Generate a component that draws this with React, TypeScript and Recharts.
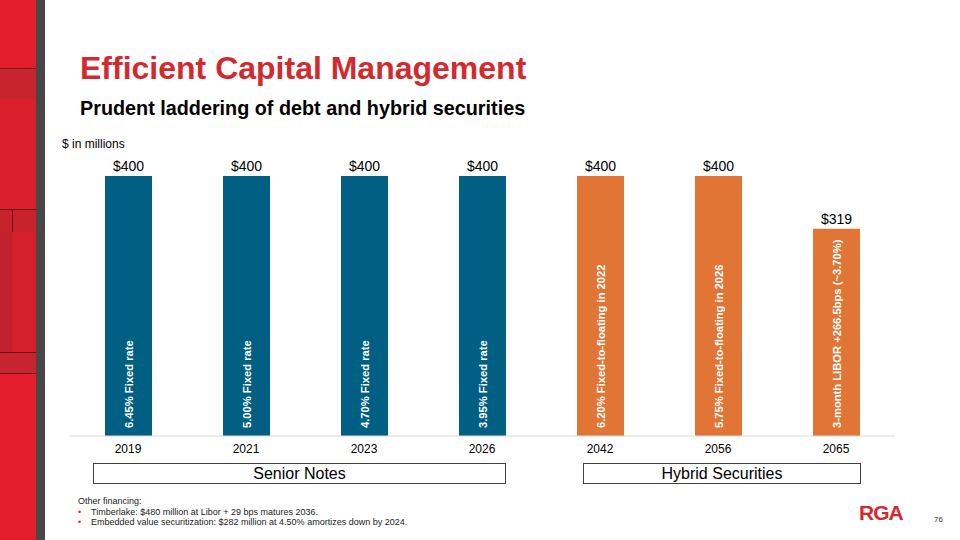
import React from "react";
import { BarChart, Bar, XAxis, YAxis, Cell, LabelList } from "recharts";

const years = ["2019", "2021", "2023", "2026", "2042", "2056", "2065"];
const amounts = [400, 400, 400, 400, 400, 400, 319];
const rateNotes = [
  "6.45% Fixed rate",
  "5.00% Fixed rate",
  "4.70% Fixed rate",
  "3.95% Fixed rate",
  "6.20% Fixed-to-floating in 2022",
  "5.75% Fixed-to-floating in 2026",
  "3-month LIBOR +266.5bps (~3.70%)",
];
const kinds = ["senior", "senior", "senior", "senior", "hybrid", "hybrid", "hybrid"];

const colorFor: Record<string, string> = { senior: "#005F83", hybrid: "#E07535" };

const data = years.map((y, i) => ({ year: y, amount: amounts[i], note: rateNotes[i], kind: kinds[i] }));

const FONT = "'Liberation Sans', Arial, sans-serif";

const InnerLabel = (props: any) => {
  const { x, y, width, height, value } = props;
  const cx = x + width / 2;
  const by = y + height - 8;
  return (
    <text
      x={cx}
      y={by}
      transform={`rotate(-90 ${cx} ${by})`}
      fill="#ffffff"
      fontSize={11.2}
      fontWeight="bold"
      fontFamily={FONT}
      textAnchor="start"
      dominantBaseline="central"
    >
      {value}
    </text>
  );
};

export default function App() {
  return (
    <div style={{ position: "absolute", left: 0, top: 0, width: 960, height: 540, background: "#fff", fontFamily: FONT, overflow: "hidden" }}>
      {/* decorative left strip */}
      <div style={{ position: "absolute", left: 0, top: 0, width: 36, height: 540, background: "#E31D2B" }} />
      <div style={{ position: "absolute", left: 0, top: 68, width: 36, height: 30, background: "#C8242F", borderTop: "1px solid #7a1018", borderBottom: "1px solid #7a1018" }} />
      <div style={{ position: "absolute", left: 0, top: 99, width: 36, height: 110, background: "#D9202C" }} />
      <div style={{ position: "absolute", left: 0, top: 209, width: 36, height: 22, background: "#C7222E", borderTop: "1px solid #6a0e15", borderBottom: "1px solid #6a0e15" }} />
      <div style={{ position: "absolute", left: 0, top: 232, width: 12, height: 120, background: "#C2222D" }} />
      <div style={{ position: "absolute", left: 12, top: 209, width: 1, height: 143, background: "#6a0e15" }} />
      <div style={{ position: "absolute", left: 12, top: 232, width: 24, height: 120, background: "#D61F2C" }} />
      <div style={{ position: "absolute", left: 0, top: 352, width: 36, height: 20, background: "#C8242F", borderTop: "1px solid #6a0e15", borderBottom: "1px solid #6a0e15" }} />
      <div style={{ position: "absolute", left: 36, top: 0, width: 9, height: 540, background: "#474747" }} />

      {/* titles */}
      <div style={{ position: "absolute", left: 80, top: 50, fontSize: 32, fontWeight: "bold", color: "#D12B2F", whiteSpace: "nowrap", lineHeight: "36px" }}>
        Efficient Capital Management
      </div>
      <div style={{ position: "absolute", left: 80, top: 96, fontSize: 19.8, fontWeight: "bold", color: "#000", whiteSpace: "nowrap", lineHeight: "24px" }}>
        Prudent laddering of debt and hybrid securities
      </div>
      <div style={{ position: "absolute", left: 62, top: 137, fontSize: 12, color: "#000", whiteSpace: "nowrap", lineHeight: "14px" }}>
        $ in millions
      </div>

      <div style={{ position: "absolute", left: 0, top: 0 }}>
        <BarChart width={960} height={540} data={data} margin={{ top: 176, right: 65, bottom: 84, left: 69 }} barSize={47}>
          <YAxis hide domain={[0, 400]} />
          <XAxis
            dataKey="year"
            height={20}
            axisLine={{ stroke: "#D9D9D9" }}
            tickLine={false}
            tick={{ fontSize: 12, fill: "#000", fontFamily: FONT }}
          />
          <Bar dataKey="amount" isAnimationActive={false}>
            {data.map((d, i) => (
              <Cell key={i} fill={colorFor[d.kind]} />
            ))}
            <LabelList
              dataKey="amount"
              position="top"
              offset={5}
              formatter={(v: any) => `$${v}`}
              style={{ fontSize: 14, fill: "#000", fontFamily: FONT }}
            />
            <LabelList dataKey="note" content={<InnerLabel />} />
          </Bar>
        </BarChart>
      </div>

      {/* group boxes */}
      <div style={{ position: "absolute", left: 93, top: 463, width: 411, height: 19, border: "1px solid #404040", textAlign: "center", fontSize: 16, lineHeight: "19px", color: "#000" }}>
        Senior Notes
      </div>
      <div style={{ position: "absolute", left: 583, top: 463, width: 276, height: 19, border: "1px solid #404040", textAlign: "center", fontSize: 16, lineHeight: "19px", color: "#000" }}>
        Hybrid Securities
      </div>

      {/* footnotes */}
      <div style={{ position: "absolute", left: 78, top: 496, fontSize: 9, lineHeight: "10.5px", color: "#222", whiteSpace: "nowrap" }}>
        <div>Other financing:</div>
        <div><span style={{ color: "#D12B2F", display: "inline-block", width: 13 }}>•</span>Timberlake: $480 million at Libor + 29 bps matures 2036.</div>
        <div><span style={{ color: "#D12B2F", display: "inline-block", width: 13 }}>•</span>Embedded value securitization: $282 million at 4.50% amortizes down by 2024.</div>
      </div>

      {/* logo + page number */}
      <div style={{ position: "absolute", left: 859, top: 501, fontSize: 21, fontWeight: 900, color: "#D7262F", letterSpacing: -1, lineHeight: "24px" }}>
        RGA
      </div>
      <div style={{ position: "absolute", left: 934, top: 515, fontSize: 8, color: "#333" }}>76</div>
    </div>
  );
}
